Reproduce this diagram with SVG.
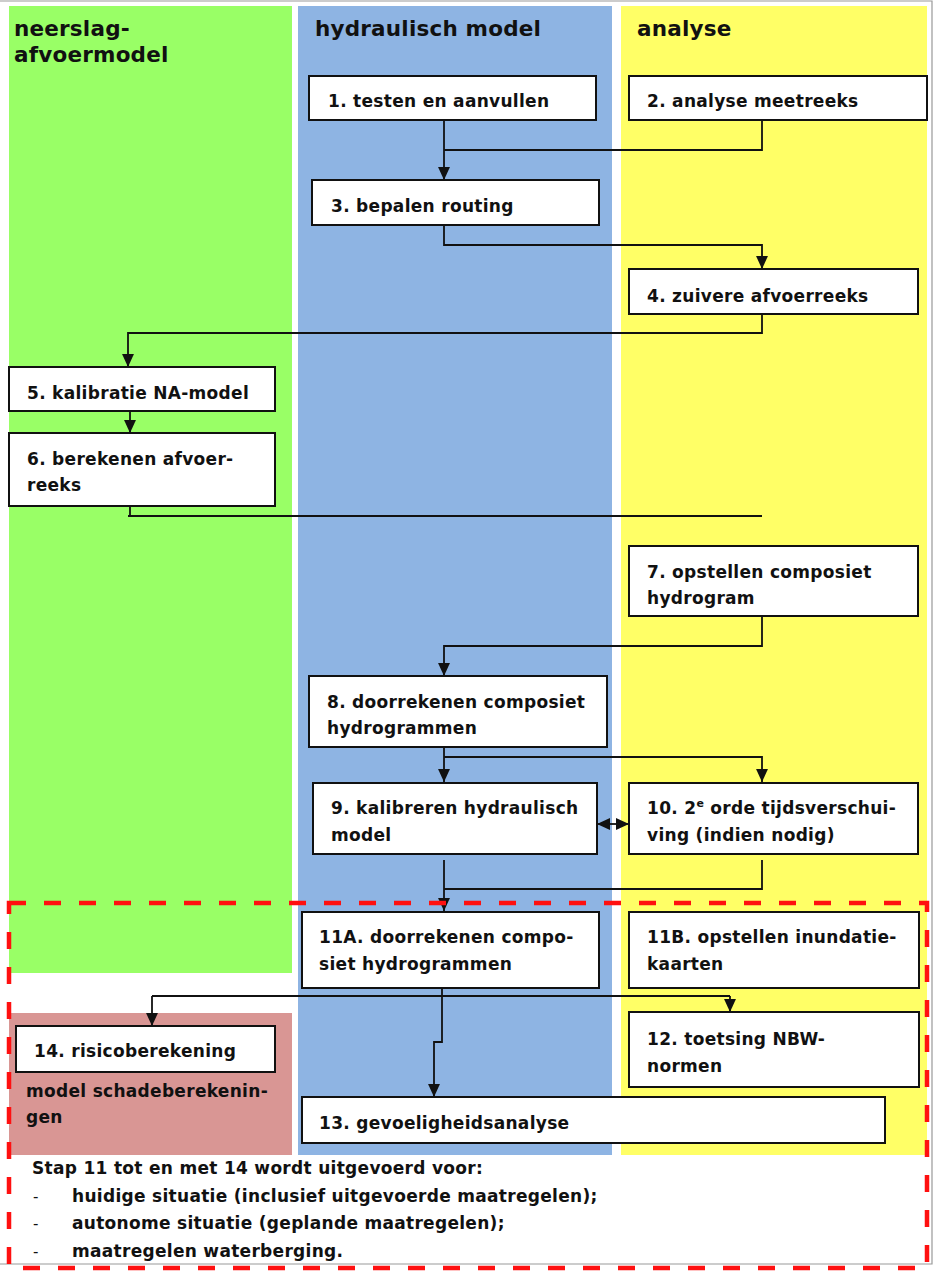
<svg xmlns="http://www.w3.org/2000/svg" width="937" height="1272" viewBox="0 0 937 1272">
<defs>
<style>
.t{font-family:"DejaVu Sans",Verdana,sans-serif;font-weight:bold;font-size:17px;letter-spacing:0.3px;fill:#111}
.d{font-family:"DejaVu Sans",Verdana,sans-serif;font-weight:normal;font-size:15px;fill:#111}
.h{font-family:"DejaVu Sans",Verdana,sans-serif;font-weight:bold;font-size:21.5px;letter-spacing:0.2px;fill:#111}
.box{fill:#fff;stroke:#111;stroke-width:2}
.c{fill:none;stroke:#111;stroke-width:1.8}
</style>
<marker id="arr" viewBox="0 0 12 12" refX="12" refY="6" markerWidth="13" markerHeight="13" markerUnits="userSpaceOnUse" orient="auto-start-reverse"><path d="M0,0.5 L12,6 L0,11.5 z" fill="#111"/></marker>
</defs>
<rect x="0" y="0" width="937" height="1272" fill="#fff"/>
<g id="frame" fill="none" stroke="#999" stroke-width="1.2">
<path d="M0,1 H932 V1264 H0"/>
</g>
<g id="lanes">
<rect x="9" y="6" width="283" height="967" fill="#99FF66"/>
<rect x="298" y="6" width="314" height="1149" fill="#8EB4E3"/>
<rect x="621" y="6" width="306" height="1149" fill="#FFFF66"/>
<rect x="9" y="1013" width="283" height="142" fill="#D99694"/>
<text class="h" x="14" y="36">neerslag-</text>
<text class="h" x="14" y="62">afvoermodel</text>
<text class="h" x="315" y="36">hydraulisch model</text>
<text class="h" x="637" y="36">analyse</text>
<text class="t" x="26" y="1097">model schadeberekenin-</text>
<text class="t" x="26" y="1123">gen</text>
</g>
<g id="connectors">
<path class="c" d="M444,120 V180" marker-end="url(#arr)"/>
<path class="c" d="M762,120 V150 H444"/>
<path class="c" d="M444,225 V245 H762 V269" marker-end="url(#arr)"/>
<path class="c" d="M762,314 V333 H128 V367" marker-end="url(#arr)"/>
<path class="c" d="M130,411 V433" marker-end="url(#arr)"/>
<path class="c" d="M130,496 V516 M128,516 H762"/>
<path class="c" d="M762,616 V646 H444 V676" marker-end="url(#arr)"/>
<path class="c" d="M444,747 V782" marker-end="url(#arr)"/>
<path class="c" d="M444,757 H762 V782" marker-end="url(#arr)"/>
<path class="c" d="M597,824 H629" marker-start="url(#arr)" marker-end="url(#arr)"/>
<path class="c" d="M444,860 V911" marker-end="url(#arr)"/>
<path class="c" d="M762,860 V889 H444"/>
<path class="c" d="M442,988 V1042 H434 V1097" marker-end="url(#arr)"/>
<path class="c" d="M152,996 H730"/>
<path class="c" d="M152,996 V1026" marker-end="url(#arr)"/>
<path class="c" d="M730,996 V1012" marker-end="url(#arr)"/>
</g>
<g id="n1"><rect class="box" x="309" y="76" width="287" height="44"/><text class="t" x="328" y="107">1. testen en aanvullen</text></g>
<g id="n2"><rect class="box" x="629" y="76" width="298" height="44"/><text class="t" x="647" y="107">2. analyse meetreeks</text></g>
<g id="n3"><rect class="box" x="312" y="180" width="287" height="45"/><text class="t" x="331" y="212">3. bepalen routing</text></g>
<g id="n4"><rect class="box" x="629" y="269" width="289" height="45"/><text class="t" x="647" y="302">4. zuivere afvoerreeks</text></g>
<g id="n5"><rect class="box" x="9" y="367" width="266" height="44"/><text class="t" x="27" y="399">5. kalibratie NA-model</text></g>
<g id="n6"><rect class="box" x="9" y="433" width="266" height="73"/><text class="t" x="27" y="465">6. berekenen afvoer-</text><text class="t" x="27" y="491">reeks</text></g>
<g id="n7"><rect class="box" x="629" y="546" width="289" height="70"/><text class="t" x="647" y="578">7. opstellen composiet</text><text class="t" x="647" y="604">hydrogram</text></g>
<g id="n8"><rect class="box" x="309" y="676" width="298" height="71"/><text class="t" x="327" y="708">8. doorrekenen composiet</text><text class="t" x="327" y="734">hydrogrammen</text></g>
<g id="n9"><rect class="box" x="313" y="783" width="284" height="71"/><text class="t" x="331" y="814">9. kalibreren hydraulisch</text><text class="t" x="331" y="841">model</text></g>
<g id="n10"><rect class="box" x="629" y="783" width="289" height="71"/><text class="t" x="647" y="814">10. 2<tspan font-size="11" dy="-7">e</tspan><tspan dy="7"> orde tijdsverschui-</tspan></text><text class="t" x="647" y="841">ving (indien nodig)</text></g>
<g id="n11a"><rect class="box" x="302" y="912" width="297" height="76"/><text class="t" x="319" y="943">11A. doorrekenen compo-</text><text class="t" x="319" y="970">siet hydrogrammen</text></g>
<g id="n11b"><rect class="box" x="629" y="912" width="290" height="76"/><text class="t" x="647" y="943">11B. opstellen inundatie-</text><text class="t" x="647" y="970">kaarten</text></g>
<g id="n12"><rect class="box" x="629" y="1012" width="290" height="75"/><text class="t" x="647" y="1045">12. toetsing NBW-</text><text class="t" x="647" y="1072">normen</text></g>
<g id="n13"><rect class="box" x="302" y="1097" width="583" height="46"/><text class="t" x="319" y="1129">13. gevoeligheidsanalyse</text></g>
<g id="n14"><rect class="box" x="16" y="1026" width="259" height="46"/><text class="t" x="34" y="1057">14. risicoberekening</text></g>
<g id="note">
<rect x="9" y="903" width="918" height="365" fill="none" stroke="#FF1010" stroke-width="4.5" stroke-dasharray="17 18"/>
<text class="t" x="32" y="1174">Stap 11 tot en met 14 wordt uitgevoerd voor:</text>
<text class="d" x="33" y="1202">-</text><text class="t" x="72" y="1202">huidige situatie (inclusief uitgevoerde maatregelen);</text>
<text class="d" x="33" y="1229">-</text><text class="t" x="72" y="1229">autonome situatie (geplande maatregelen);</text>
<text class="d" x="33" y="1257">-</text><text class="t" x="72" y="1257">maatregelen waterberging.</text>
</g>
</svg>
